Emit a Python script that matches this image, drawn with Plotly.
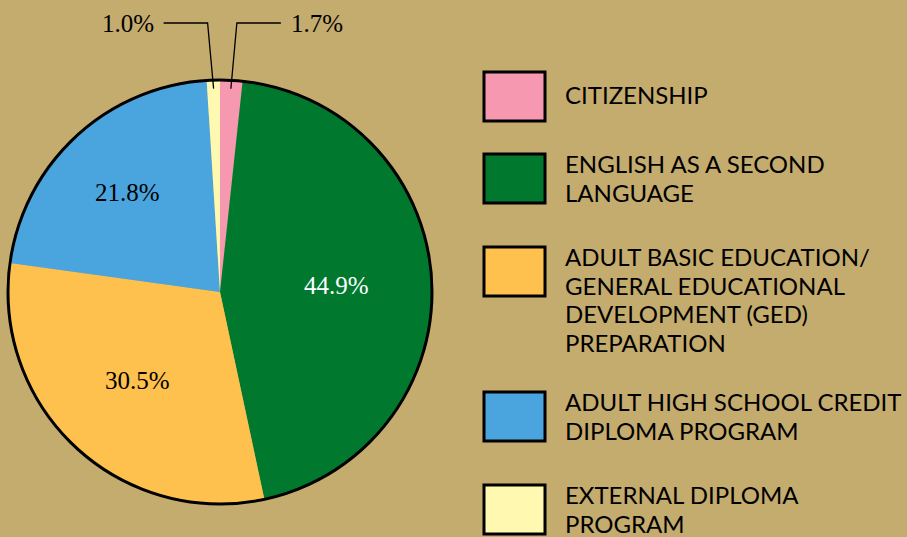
import numpy as np
import plotly.graph_objects as go

# ---- data ----
categories = [
    "CITIZENSHIP",
    "ENGLISH AS A SECOND<br>LANGUAGE",
    "ADULT BASIC EDUCATION/<br>GENERAL EDUCATIONAL<br>DEVELOPMENT (GED)<br>PREPARATION",
    "ADULT HIGH SCHOOL CREDIT<br>DIPLOMA PROGRAM",
    "EXTERNAL DIPLOMA<br>PROGRAM",
]
shares = [1.7, 44.9, 30.5, 21.8, 1.0]
colors = ["#F598B0", "#00792F", "#FEC14E", "#4AA5DE", "#FFF8B0"]

# ---- layout constants (pixels) ----
W, H = 907, 537
BG = "#C4AB6E"
CX, CY, R = 220, 292, 212

def px2x(px):
    return px / W

def py2y(py):
    return 1 - py / H

fig = go.Figure()
fig.add_trace(go.Pie(
    values=shares,
    labels=[c.replace("<br>", " ") for c in categories],
    marker=dict(colors=colors, line=dict(width=0)),
    sort=False, direction="clockwise", rotation=0,
    textinfo="none", showlegend=False, hoverinfo="label+value",
    domain=dict(x=[px2x(CX - R), px2x(CX + R)], y=[py2y(CY + R), py2y(CY - R)]),
))

shapes = []
annotations = []
# outer outline
shapes.append(dict(type="circle", xref="paper", yref="paper",
                   x0=px2x(CX - R), x1=px2x(CX + R), y0=py2y(CY + R), y1=py2y(CY - R),
                   line=dict(color="black", width=3)))

vals = np.array(shares)
total = vals.sum()
mids = (np.cumsum(vals) - vals / 2) / total * 2 * np.pi

serif = "Liberation Serif, Times New Roman, serif"
# inside labels
inside = {1: (0.55, "white"), 2: (0.57, "black"), 3: (0.64, "black")}
for i, (frac, col) in inside.items():
    x = CX + R * frac * np.sin(mids[i])
    y = CY - R * frac * np.cos(mids[i])
    annotations.append(dict(x=px2x(x), y=py2y(y), xref="paper", yref="paper",
                            text=f"{shares[i]:.1f}%", showarrow=False,
                            xanchor="center", yanchor="middle",
                            font=dict(family=serif, size=25, color=col)))

# outside labels with leader lines
ELBOW_Y = 23
for i, side in ((4, -1), (0, 1)):
    sx = CX + R * 0.96 * np.sin(mids[i])
    sy = CY - R * 0.96 * np.cos(mids[i])
    ex = sx + side * 6
    hx = ex + side * 44
    path = f"M {px2x(sx)},{py2y(sy)} L {px2x(ex)},{py2y(ELBOW_Y)} L {px2x(hx)},{py2y(ELBOW_Y)}"
    shapes.append(dict(type="path", xref="paper", yref="paper", path=path,
                       line=dict(color="black", width=1.3)))
    annotations.append(dict(x=px2x(hx + side * 8), y=py2y(ELBOW_Y), xref="paper", yref="paper",
                            text=f"{shares[i]:.1f}%", showarrow=False,
                            xanchor="right" if side < 0 else "left", yanchor="middle",
                            font=dict(family=serif, size=25, color="black")))

# custom legend
sw_tops = [72, 154, 247, 392, 485]
SW_H = 49
LINE_GAP = 28.6
for i, top in enumerate(sw_tops):
    shapes.append(dict(type="rect", xref="paper", yref="paper",
                       x0=px2x(484), x1=px2x(545), y0=py2y(top + SW_H), y1=py2y(top),
                       fillcolor=colors[i], line=dict(color="black", width=3)))
    lines = categories[i].split("<br>")
    first = top + SW_H / 2 - 1.5 if len(lines) == 1 else top + 9.5
    for k, line in enumerate(lines):
        annotations.append(dict(x=px2x(563), y=py2y(first + k * LINE_GAP), xref="paper", yref="paper",
                                text=line, showarrow=False, align="left",
                                xanchor="left", yanchor="middle",
                                font=dict(family="Lato, sans-serif", size=24, color="black")))

fig.update_layout(width=W, height=H, margin=dict(l=0, r=0, t=0, b=0),
                  paper_bgcolor=BG, plot_bgcolor=BG,
                  shapes=shapes, annotations=annotations)
fig.write_html("out.html", config={"displayModeBar": False},
               post_script="document.body.style.margin='0';document.body.style.background='%s';" % BG)
